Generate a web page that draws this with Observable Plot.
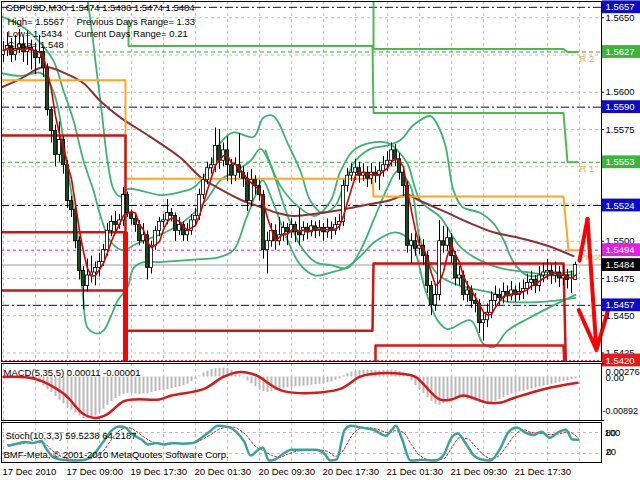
<!DOCTYPE html>
<html><head><meta charset="utf-8">
<script src="https://cdn.jsdelivr.net/npm/d3@7"></script>
<script src="https://cdn.jsdelivr.net/npm/@observablehq/plot@0.6"></script>
<style>
body{margin:0;background:#fff;}
#wrap{position:relative;width:640px;height:480px;overflow:hidden;background:#fff;}
#wrap svg{position:absolute;left:0;overflow:visible;}
</style></head><body><div id="wrap"></div>
<script>
// ---------- price bars (M30) ----------
const firstOpen = 1.5625;
const close = [
1.5628,1.5631,1.5625,1.5629,1.5632,1.5627,1.5630,1.5628,1.5623,1.5627,
1.5616,1.5588,1.5574,1.5558,1.5568,1.5551,1.5527,1.5521,1.5500,1.5480,
1.5470,1.5477,1.5479,1.5482,1.5486,1.5494,1.5507,1.5513,1.5511,1.5514,
1.5531,1.5519,1.5515,1.5511,1.5500,1.5504,1.5482,1.5497,1.5507,1.5513,
1.5514,1.5519,1.5517,1.5507,1.5511,1.5504,1.5507,1.5514,1.5517,1.5531,
1.5541,1.5549,1.5551,1.5564,1.5554,1.5561,1.5551,1.5544,1.5551,1.5546,
1.5542,1.5527,1.5541,1.5537,1.5531,1.5494,1.5500,1.5507,1.5500,1.5504,
1.5509,1.5506,1.5511,1.5506,1.5504,1.5509,1.5506,1.5510,1.5507,1.5509,
1.5506,1.5509,1.5507,1.5511,1.5513,1.5537,1.5544,1.5546,1.5549,1.5544,
1.5546,1.5542,1.5546,1.5544,1.5547,1.5551,1.5554,1.5561,1.5555,1.5546,
1.5537,1.5497,1.5500,1.5495,1.5497,1.5490,1.5470,1.5457,1.5464,1.5500,
1.5497,1.5502,1.5490,1.5475,1.5477,1.5464,1.5467,1.5460,1.5458,1.5445,
1.5447,1.5452,1.5460,1.5464,1.5462,1.5466,1.5463,1.5467,1.5464,1.5466,
1.5468,1.5472,1.5474,1.5470,1.5477,1.5479,1.5480,1.5477,1.5479,1.5475,
1.5477,1.5474,1.5474,1.5484];
const high = [
1.5634,1.5640,1.5636,1.5638,1.5642,1.5637,1.5641,1.5635,1.5633,1.5638,
1.5630,1.5619,1.5590,1.5578,1.5580,1.5570,1.5554,1.5530,1.5524,1.5503,
1.5483,1.5488,1.5490,1.5486,1.5492,1.5498,1.5512,1.5517,1.5520,1.5518,
1.5536,1.5533,1.5521,1.5518,1.5514,1.5512,1.5507,1.5500,1.5510,1.5516,
1.5518,1.5528,1.5522,1.5519,1.5516,1.5513,1.5512,1.5518,1.5522,1.5535,
1.5545,1.5553,1.5556,1.5576,1.5575,1.5566,1.5570,1.5555,1.5556,1.5572,
1.5550,1.5546,1.5548,1.5544,1.5541,1.5534,1.5506,1.5512,1.5511,1.5516,
1.5513,1.5512,1.5515,1.5513,1.5522,1.5513,1.5512,1.5514,1.5513,1.5514,
1.5512,1.5515,1.5513,1.5516,1.5518,1.5541,1.5549,1.5552,1.5555,1.5553,
1.5552,1.5550,1.5552,1.5550,1.5553,1.5557,1.5560,1.5566,1.5565,1.5559,
1.5549,1.5540,1.5505,1.5505,1.5503,1.5501,1.5493,1.5473,1.5470,1.5514,
1.5510,1.5509,1.5505,1.5493,1.5483,1.5480,1.5473,1.5470,1.5465,1.5461,
1.5452,1.5458,1.5466,1.5470,1.5468,1.5472,1.5470,1.5473,1.5470,1.5472,
1.5474,1.5478,1.5480,1.5477,1.5483,1.5485,1.5488,1.5484,1.5486,1.5483,
1.5484,1.5481,1.5480,1.5486];
const low = [
1.5620,1.5624,1.5620,1.5621,1.5626,1.5620,1.5618,1.5615,1.5612,1.5619,
1.5610,1.5584,1.5566,1.5550,1.5553,1.5545,1.5522,1.5516,1.5495,1.5474,
1.5454,1.5466,1.5472,1.5470,1.5476,1.5483,1.5490,1.5503,1.5506,1.5508,
1.5510,1.5516,1.5511,1.5506,1.5497,1.5498,1.5474,1.5478,1.5494,1.5503,
1.5509,1.5511,1.5513,1.5500,1.5504,1.5500,1.5500,1.5504,1.5510,1.5514,
1.5528,1.5538,1.5545,1.5546,1.5548,1.5550,1.5540,1.5538,1.5540,1.5542,
1.5536,1.5520,1.5523,1.5531,1.5527,1.5488,1.5478,1.5496,1.5494,1.5497,
1.5500,1.5497,1.5502,1.5499,1.5497,1.5500,1.5501,1.5503,1.5502,1.5503,
1.5500,1.5502,1.5501,1.5504,1.5507,1.5510,1.5533,1.5540,1.5541,1.5539,
1.5540,1.5536,1.5538,1.5539,1.5534,1.5543,1.5547,1.5550,1.5550,1.5541,
1.5530,1.5492,1.5485,1.5490,1.5491,1.5484,1.5465,1.5450,1.5453,1.5460,
1.5492,1.5493,1.5485,1.5470,1.5470,1.5460,1.5459,1.5455,1.5452,1.5438,
1.5433,1.5442,1.5448,1.5456,1.5457,1.5458,1.5459,1.5460,1.5459,1.5460,
1.5461,1.5464,1.5467,1.5465,1.5466,1.5472,1.5474,1.5471,1.5472,1.5469,
1.5470,1.5468,1.5465,1.5474];

// ---------- time axis ----------
const timeIdx = [0,16,32,48,64,80,96,112,128];
const timeLabels = ["17 Dec 2010","17 Dec 09:00","19 Dec 17:30","20 Dec 01:30","20 Dec 09:30","20 Dec 17:30","21 Dec 01:30","21 Dec 09:30","21 Dec 17:30"];
const gridIdx = [0,8,16,24,32,40,48,56,64,72,80,88,96,104,112,120,128,136,144];
const priceTicks = [1.5425,1.5450,1.5475,1.5500,1.5525,1.5550,1.5575,1.5600,1.5625,1.5650];
const priceTickLabels = [1.5425,1.5450,1.5475,1.5500,1.5575,1.5600,1.5650];

// ---------- horizontal levels ----------
const blueLevels = [1.5657,1.5590,1.5524,1.5457];
const greenLevels = [1.5627,1.5553];
const pivotLevel = [1.5494];
const priceLevel = [1.5484];
const redLevel = [1.5420];
const tagValues = [1.5657,1.5627,1.5590,1.5553,1.5524,1.5494,1.5484,1.5457,1.5420];
const tagColors = ["#0c0cc4","#3cb43c","#0c0cc4","#3cb43c","#0c0cc4","#e41ee4","#000000","#0c0cc4","#e01c1c"];

// ---------- moving average and bands (sampled [bar, price]) ----------
const maLong = [[-0.75,1.5603],[4.25,1.5609],[10,1.5617],[16,1.5612],[20,1.5606],[24.25,1.5594],[29.25,1.5583],[36.75,1.5570],[44.25,1.5556],[49.25,1.5543],[53.5,1.5536],[60,1.5527],[64.25,1.5523],[68.5,1.5519],[72.5,1.5517],[79.25,1.5519],[84.25,1.5521],[91.75,1.5525],[96,1.5527],[101,1.5531],[104.25,1.5527],[111,1.5519],[116.75,1.5512],[122.5,1.5506],[129.25,1.5502],[136,1.5497],[142.5,1.5490]];
const bandA = [[20.25,1.5675],[21.75,1.5648],[23.25,1.5615],[24.5,1.5588],[26,1.5554],[27.5,1.5535],[29.25,1.5530],[31,1.5535],[34.25,1.5534],[39.25,1.5531],[44.25,1.5533],[47.5,1.5536],[51,1.5547],[54.25,1.5566],[57.5,1.5573],[62.5,1.5570],[65,1.5583],[67.5,1.5584],[71,1.5566],[74.25,1.5547],[76.75,1.5527],[79.75,1.5519],[83,1.5524],[85.5,1.5541],[88,1.5554],[91.75,1.5562],[95.5,1.5564],[99.25,1.5568],[102.5,1.5578],[106.75,1.5584],[108.5,1.5578],[110.5,1.5564],[112.5,1.5534],[114.75,1.5523],[119.25,1.5519],[122.5,1.5512],[125,1.5501],[127.5,1.5486],[131,1.5477],[137.5,1.5478],[143,1.5480]];
const bandB = [[-0.75,1.5651],[4.25,1.5645],[9.25,1.5633],[12.5,1.5621],[15,1.5601],[17.5,1.5581],[20,1.5554],[22.5,1.5534],[24.25,1.5517],[26.75,1.5500],[29.75,1.5494],[33,1.5498],[36.75,1.5502],[40.5,1.5506],[45.5,1.5514],[50.5,1.5527],[54.25,1.5541],[58,1.5547],[61.75,1.5554],[64.25,1.5562],[66.75,1.5551],[70.5,1.5521],[74.25,1.5497],[78,1.5486],[81.75,1.5484],[86,1.5482],[89.25,1.5494],[92.5,1.5514],[96,1.5536],[98.5,1.5547],[101.75,1.5537],[104.25,1.5500],[108.5,1.5478],[114.25,1.5470],[119.25,1.5467],[122.5,1.5465],[125,1.5460],[129.25,1.5459],[137.5,1.5460],[143,1.5462]];
const bandC = [[-0.75,1.5613],[4.25,1.5611],[9.25,1.5613],[11.75,1.5605],[13.5,1.5591],[16,1.5549],[18.5,1.5505],[19.25,1.5482],[20,1.5460],[21,1.5442],[23.5,1.5438],[25,1.5440],[26.75,1.5449],[28.5,1.5460],[31,1.5469],[32.5,1.5482],[35,1.5486],[39.25,1.5486],[44.25,1.5487],[49.25,1.5488],[53.5,1.5489],[57.5,1.5494],[60.5,1.5514],[63,1.5531],[64.75,1.5541],[67.25,1.5527],[70.5,1.5504],[74.25,1.5484],[78,1.5477],[81.75,1.5479],[85.5,1.5482],[89.25,1.5490],[93,1.5500],[98,1.5506],[101.75,1.5500],[105.5,1.5467],[108.5,1.5447],[111,1.5441],[116.75,1.5447],[120,1.5431],[122.5,1.5429],[126,1.5440],[131.75,1.5449],[137.5,1.5457],[143,1.5464]];
const bandD = [[65.5,1.5561],[69.25,1.5537],[74.25,1.5522],[78,1.5517],[81.75,1.5527],[84.25,1.5547],[87.5,1.5561],[91.75,1.5566],[96,1.5566],[98.5,1.5561],[101,1.5552],[104.25,1.5527],[109.25,1.5516],[114.25,1.5496],[119.25,1.5487],[124.25,1.5482],[131.75,1.5479],[138,1.5477],[143,1.5478]];

// ---------- daily pivot step lines ----------
const pivotLine = [[-0.5,1.5608],[30.5,1.5608],[30.5,1.5542],[92.25,1.5542],[92.5,1.5530],[140,1.5530],[141.25,1.5494],[143.5,1.5494]];
const r1Line = [[31.25,1.5648],[31.25,1.5631],[92.25,1.5631],[92.5,1.5586],[140,1.5586],[141,1.5553],[143.5,1.5553]];
const r2Line = [[92.5,1.5680],[92.5,1.5629],[140,1.5629],[141,1.5627],[143.5,1.5627]];
const s1Line = [[-0.5,1.5571],[30.5,1.5571],[30.5,1.5440],[92.25,1.5440],[92.5,1.5485],[140,1.5485],[140.75,1.5400]];
const s2Line = [[-0.5,1.5506],[30.5,1.5506],[30.75,1.5400]];
const s2bLine = [[93,1.5400],[93,1.5430],[140,1.5430],[140.5,1.5400]];
const s3Line = [[-0.5,1.5467],[30.5,1.5467],[30.75,1.5400]];
const thickRedI = [30.5], thickRedFrom = [1.5506], thickRedTo = [1.5419];
const rLabelText = ["R 2","R 1","Pivot"], rLabelPrice = [1.5627,1.5553,1.5494];
const zigzag = [[144,1.5487],[146,1.5515]];
const zigzagArrow = [[146,1.5515,148.25,1.5427]];

// ---------- MACD(5,35,5) ----------
const macdHist = [
-0.0002,-0.0003,-0.0002,-0.0003,-0.0002,-0.0003,-0.0004,-0.0004,-0.0005,
-0.0010,-0.0018,-0.0026,-0.0032,
-0.0040,-0.0048,-0.0055,-0.0062,-0.0068,-0.0074,
-0.0080,-0.0085,-0.0086,-0.0084,-0.0080,-0.0074,
-0.0066,-0.0058,-0.0050,-0.0044,-0.0040,-0.0036,
-0.0034,-0.0034,-0.0035,-0.0036,-0.0035,-0.0034,-0.0032,-0.0030,-0.0028,-0.0027,
-0.0026,-0.0024,-0.0022,-0.0020,-0.0018,-0.0015,-0.0010,-0.0005,0.0002,0.0008,
0.0012,0.0015,0.0017,0.0018,0.0018,0.0017,0.0014,0.0010,
0.0004,-0.0002,-0.0008,-0.0014,-0.0020,-0.0026,-0.0030,-0.0032,-0.0030,-0.0028,-0.0026,-0.0024,
-0.0022,-0.0021,-0.0020,-0.0020,-0.0019,-0.0018,-0.0017,-0.0016,-0.0015,-0.0014,-0.0012,-0.0010,-0.0007,-0.0004,
0.0002,0.0007,0.0010,0.0012,0.0013,0.0014,0.0014,0.0014,0.0013,0.0013,0.0013,0.0013,0.0014,0.0013,0.0011,0.0008,
0.0002,-0.0008,-0.0018,-0.0026,-0.0034,-0.0042,-0.0050,-0.0056,-0.0058,-0.0055,-0.0050,-0.0046,
-0.0044,-0.0043,-0.0044,-0.0046,-0.0048,-0.0050,-0.0052,-0.0054,-0.0055,-0.0054,-0.0050,-0.0046,
-0.0042,-0.0038,-0.0035,-0.0033,-0.0031,-0.0029,-0.0027,-0.0025,-0.0023,-0.0021,-0.0019,-0.0017,-0.0015,-0.0013,-0.0011,-0.0009,-0.0007,-0.0005,-0.0004];
const macdSignal = [[0,0],[8,-0.0004],[15,-0.0034],[20,-0.0076],[23,-0.0084],[26,-0.0076],[30,-0.0050],[33,-0.0046],[39,-0.0046],[42,-0.0038],[50,-0.0025],[55,0],[59,0.0010],[63,0.0004],[70,-0.0029],[84,-0.0025],[89,0],[92,0.0006],[100,0.0006],[103,0],[109,-0.0046],[112,-0.0046],[115,-0.0038],[121,-0.0053],[124,-0.0053],[128,-0.0042],[135,-0.0025],[143.5,-0.0012]];
const macdScale = [-0.00892,0.00276];

// ---------- Stochastic(10,3,3) ----------
const stochMain = [[1.3,42],[3.4,48],[5.4,53],[7.5,50],[9.5,56],[10.5,37],[12.6,8],[14.6,2],[17.2,0],[19.7,1],[22.3,14],[24.9,53],[26.9,84],[29,97],[30.5,94],[32,77],[34.6,59],[36.1,46],[38.2,50],[40.2,46],[42.3,50],[44.8,48],[47.4,50],[49.5,65],[51.5,82],[53.6,99],[56.1,96],[58.2,82],[60.2,53],[61.8,14],[63.3,27],[64.8,37],[66.4,0],[67.9,3],[70,20],[72,31],[75.1,31],[78.1,31],[80.2,20],[81.7,0],[83.3,3],[85.3,88],[86.9,99],[89.4,94],[92.5,88],[95.6,71],[97.1,88],[98.1,99],[99.7,59],[101.7,0],[104.8,2],[107.9,0],[109.9,14],[112,65],[113.5,77],[115.6,48],[117.6,14],[119.7,2],[121.7,0],[124.3,37],[126.3,82],[128.4,94],[130.4,80],[132.5,73],[134.5,82],[136.6,65],[138.6,80],[140.6,88],[142.2,60],[143.7,59.5]];
const stochSignal = [[1,45],[4,47],[6,51],[8,51],[10,50],[12,30],[14,14],[16,5],[19,1],[22,6],[25,28],[27,60],[29,85],[31,94],[33,85],[35,68],[37,54],[39,49],[41,47],[43,48],[46,49],[48,52],[50,62],[52,75],[54,90],[57,96],[59,88],[61,68],[63,40],[65,28],[67,15],[69,9],[71,18],[74,28],[78,31],[81,26],[83,12],[85,30],[87,70],[90,94],[93,91],[96,80],[98,85],[100,80],[102,45],[104,15],[107,2],[110,5],[112,35],[114,65],[116,62],[118,40],[120,16],[122,5],[124,15],[126,45],[128,75],[130,88],[132,80],[134,78],[137,74],[139,76],[141,82],[143.7,64.2]];
const stochLevels = [20,80];

// ---------- build ----------
const FONT = '"Liberation Sans", Arial, sans-serif';
const style = {background:"transparent", fontFamily:FONT, fontSize:"9.5px", color:"#000", overflow:"visible"};
const X = {domain:[-0.5,149.5], axis:null};
const px = d => d[0], py = d => d[1];
const grid = {stroke:"#bdbdbd", strokeDasharray:"3,3"};
const candles = close.map((c,i)=>({i, o: i ? close[i-1] : firstOpen, c, h: high[i], l: low[i]}));
const txt = (s, dx, dy, extra={}) => Plot.text([s], {frameAnchor:"top-left", dx, dy, text:d=>d, textAnchor:"start", lineAnchor:"middle", fill:"#000", ...extra});
const band = arr => Plot.line(arr, {x:px, y:py, stroke:"#3cb371", strokeWidth:1.8, curve:"catmull-rom", clip:true});
const step = (arr, stroke, w=2) => Plot.line(arr, {x:px, y:py, stroke, strokeWidth:w, clip:true});

const main = Plot.plot({
  width:640, height:362, marginLeft:1, marginRight:39, marginTop:1, marginBottom:1,
  x:X, y:{domain:[1.54193,1.56609], axis:null}, color:{type:"identity"}, style,
  marks:[
    Plot.ruleX(gridIdx, {x:d=>d, ...grid}),
    Plot.ruleY(priceTicks, {y:d=>d, ...grid}),
    Plot.ruleY(redLevel, {y:d=>d, stroke:"#ff2020", strokeDasharray:"2,2"}),
    Plot.ruleY(priceLevel, {y:d=>d, stroke:"#bdbdbd", strokeWidth:1.5}),
    Plot.ruleY(pivotLevel, {y:d=>d, stroke:"#ff00ff", strokeDasharray:"3,3"}),
    Plot.ruleY(greenLevels, {y:d=>d, stroke:"#33aa33", strokeDasharray:"4,3"}),
    Plot.ruleY(blueLevels, {y:d=>d, stroke:"#000080", strokeDasharray:"8,3,2,3"}),
    band(bandA), band(bandB), band(bandC), band(bandD),
    Plot.line(maLong, {x:px, y:py, stroke:"#8e2f2f", strokeWidth:2, curve:"catmull-rom", clip:true}),
    step(pivotLine, "#ffa520"),
    step(r1Line, "#4cbb4c"),
    step(r2Line, "#4cbb4c"),
    step(s1Line, "#cc1515", 2.5),
    step(s2Line, "#cc1515", 2.5),
    step(s2bLine, "#dd1515", 2.5),
    step(s3Line, "#cc1515", 2.5),
    Plot.ruleX(thickRedI, {x:d=>d, y1:(d,i)=>thickRedFrom[i], y2:(d,i)=>thickRedTo[i], stroke:"#ff0000", strokeWidth:5}),
    Plot.ruleX(candles, {x:"i", y1:"l", y2:"h", stroke:"#000", strokeWidth:1}),
    Plot.rect(candles, {x1:d=>d.i-0.4, x2:d=>d.i+0.4, y1:"o", y2:"c", fill:d=>d.c>=d.o ? "#ffffff" : "#1c4a1c", stroke:"#000", strokeWidth:0.8}),
    Plot.lineY(candles, Plot.windowY({k:4, anchor:"end"}, {x:"i", y:"c", stroke:"#d40000", strokeWidth:1.6})),
    Plot.text(rLabelText, {x:144, y:(d,i)=>rLabelPrice[i], text:d=>d, dy:7, textAnchor:"start", fill:"#e3b060"}),
    Plot.line(zigzag, {x:px, y:py, stroke:"#ff0000", strokeWidth:4}),
    Plot.arrow(zigzagArrow, {x1:d=>d[0], y1:d=>d[1], x2:d=>d[2], y2:d=>d[3], stroke:"#ff0000", strokeWidth:4, headLength:18, headAngle:40}),
    Plot.ruleY(priceTicks, {y:d=>d, x1:149.5, x2:150.3, stroke:"#000"}),
    Plot.text(priceTickLabels, {x:149.5, y:d=>d, text:d=>d.toFixed(4), dx:4, textAnchor:"start", fill:"#000"}),
    Plot.rect(tagValues, {x1:149.75, x2:160, y1:d=>d-0.00043, y2:d=>d+0.00043, fill:(d,i)=>tagColors[i]}),
    Plot.text(tagValues, {x:149.75, y:d=>d, text:d=>d.toFixed(4), dx:3, textAnchor:"start", fill:"#ffffff"}),
    txt("GBPUSD,M30", 4, 6),
    txt("1.5474 1.5486 1.5474 1.5484", 69, 6),
    txt("High= 1.5567", 6, 20),
    txt("Previous Days Range= 1.33", 75, 20),
    txt("Low= 1.5434", 6, 32),
    txt("Current Days Range= 0.21", 73, 32),
    txt("Close= 1.548", 6, 43),
    Plot.frame({stroke:"#000"})
  ]
});

const macd = Plot.plot({
  width:640, height:59, marginLeft:1, marginRight:39, marginTop:1, marginBottom:1,
  x:X, y:{domain:macdScale, axis:null}, style,
  marks:[
    Plot.ruleX(gridIdx, {x:d=>d, ...grid}),
    Plot.ruleX(macdHist, {x:(d,i)=>i, y1:0, y2:d=>d, stroke:"#b9b9b9", strokeWidth:2}),
    Plot.line(macdSignal, {x:px, y:py, stroke:"#d41a1a", strokeWidth:2.5, curve:"catmull-rom"}),
    txt("MACD(5,35,5) 0.00011 -0.00001", 2, 9),
    Plot.ruleY(macdScale, {y:d=>d, x1:149.5, x2:150.3, stroke:"#000"}),
    Plot.text(["0.00276"], {frameAnchor:"top-right", dx:4, dy:5, text:d=>d, textAnchor:"start", fill:"#000"}),
    Plot.text(["0.00"], {frameAnchor:"top-right", dx:4, dy:11, text:d=>d, textAnchor:"start", fill:"#000"}),
    Plot.text(["-0.00892"], {frameAnchor:"bottom-right", dx:1, dy:-7, text:d=>d, textAnchor:"start", fill:"#000", fontSize:9}),
    Plot.frame({stroke:"#000"})
  ]
});

const stoch = Plot.plot({
  width:640, height:60, marginLeft:1, marginRight:39, marginTop:1, marginBottom:19,
  x:X, y:{domain:[0,100], range:[39,4], axis:null}, style,
  marks:[
    Plot.ruleX(gridIdx, {x:d=>d, ...grid}),
    Plot.ruleY(stochLevels, {y:d=>d, ...grid}),
    Plot.line(stochSignal, {x:px, y:py, stroke:"#c81414", strokeWidth:1, strokeDasharray:"2,2", curve:"monotone-x"}),
    Plot.line(stochMain, {x:px, y:py, stroke:"#3aa39d", strokeWidth:2.5, curve:"monotone-x"}),
    txt("Stoch(10,3,3) 59.5238 64.2187", 4, 13),
    txt("BMF-Meta, \u00a9 2001-2010 MetaQuotes Software Corp.", 2, 32),
    Plot.text(["100"], {frameAnchor:"top-right", dx:3, dy:7, text:d=>d, textAnchor:"start", fill:"#000"}),
    Plot.text(["80"], {frameAnchor:"top-right", dx:4, dy:7, text:d=>d, textAnchor:"start", fill:"#000"}),
    Plot.text(["20"], {frameAnchor:"bottom-right", dx:4, dy:-8, text:d=>d, textAnchor:"start", fill:"#000"}),
    Plot.text(["0"], {frameAnchor:"bottom-right", dx:5, dy:-8, text:d=>d, textAnchor:"start", fill:"#000"}),
    Plot.text(timeIdx, {x:d=>d, frameAnchor:"bottom", dx:-1, dy:9, text:(d,i)=>timeLabels[i], textAnchor:"start", lineAnchor:"middle", fill:"#000"}),
    Plot.frame({stroke:"#000"})
  ]
});

const wrap = document.getElementById("wrap");
[[main,0],[macd,362],[stoch,421]].forEach(([svg,top])=>{
  svg.style.position = "absolute";
  svg.style.left = "0px";
  svg.style.top = top + "px";
  svg.style.overflow = "visible";
  wrap.appendChild(svg);
});
</script></body></html>
